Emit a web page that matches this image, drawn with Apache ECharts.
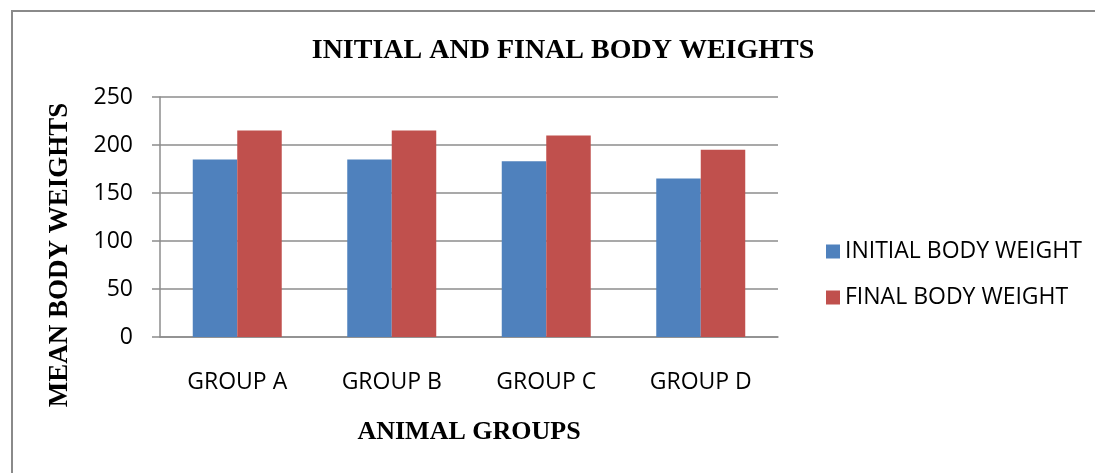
<!DOCTYPE html>
<html>
<head>
<meta charset="utf-8">
<script src="https://cdn.jsdelivr.net/npm/echarts@6/dist/echarts.min.js"></script>
<style>
html,body{margin:0;padding:0;background:#fff;}
#chart{width:1095px;height:473px;}
</style>
</head>
<body>
<div id="chart"></div>
<script>
const categories = ['GROUP A', 'GROUP B', 'GROUP C', 'GROUP D'];
const initialWeights = [185, 185, 183, 165];
const finalWeights = [215, 215, 210, 195];
const seriesNames = ['INITIAL BODY WEIGHT', 'FINAL BODY WEIGHT'];
const titleText = 'INITIAL AND FINAL BODY WEIGHTS';
const xAxisTitle = 'ANIMAL GROUPS';
const yAxisTitle = 'MEAN BODY WEIGHTS';

const chart = echarts.init(document.getElementById('chart'), null, {renderer: 'canvas'});
const serif = '"Liberation Serif", "Times New Roman", serif';
const sans = '"Open Sans", "Noto Sans", sans-serif';
const gray = '#8c8c8c';

chart.setOption({
  animation: false,
  backgroundColor: '#fff',
  title: {
    text: titleText,
    left: 558, top: 32, textAlign: 'center',
    textStyle: {fontFamily: serif, fontWeight: 'bold', fontSize: 28, color: '#000'}
  },
  legend: {
    orient: 'vertical',
    left: 821, top: 235,
    itemWidth: 14, itemHeight: 14, itemGap: 23,
    icon: 'rect',
    textStyle: {fontFamily: sans, fontSize: 23, color: '#000'},
    data: seriesNames
  },
  grid: {left: 160, top: 97, width: 618, height: 240, containLabel: false},
  xAxis: {
    type: 'category',
    data: categories,
    axisLine: {show: true, lineStyle: {color: gray, width: 1.5}},
    axisTick: {show: false},
    axisLabel: {fontFamily: sans, fontSize: 23, color: '#000', margin: 34}
  },
  yAxis: {
    type: 'value',
    min: 0, max: 250, interval: 50,
    axisLine: {show: true, lineStyle: {color: gray, width: 1.5}},
    axisTick: {show: true, length: 8, lineStyle: {color: gray, width: 1.5}},
    splitLine: {show: true, lineStyle: {color: gray, width: 1.5}},
    axisLabel: {fontFamily: sans, fontSize: 23, color: '#000', margin: 27}
  },
  series: [
    {name: seriesNames[0], type: 'bar', data: initialWeights, barGap: '0%', barCategoryGap: '42.4%',
     itemStyle: {color: '#4F81BD'}},
    {name: seriesNames[1], type: 'bar', data: finalWeights, barGap: '0%', barCategoryGap: '42.4%',
     itemStyle: {color: '#C0504D'}}
  ],
  graphic: [
    {type: 'polyline', shape: {points: [[12, 480], [12, 11], [1100, 11]]},
     style: {stroke: '#8a8a8a', lineWidth: 2, fill: null}},
    {type: 'text', x: 469, y: 432,
     style: {text: xAxisTitle, fontFamily: serif, fontWeight: 'bold', fontSize: 26, fill: '#000',
             align: 'center', verticalAlign: 'middle'}},
    {type: 'text', x: 60, y: 255, rotation: Math.PI / 2,
     style: {text: yAxisTitle, fontFamily: serif, fontWeight: 'bold', fontSize: 27, fill: '#000',
             align: 'center', verticalAlign: 'middle'}}
  ]
});
</script>
</body>
</html>
